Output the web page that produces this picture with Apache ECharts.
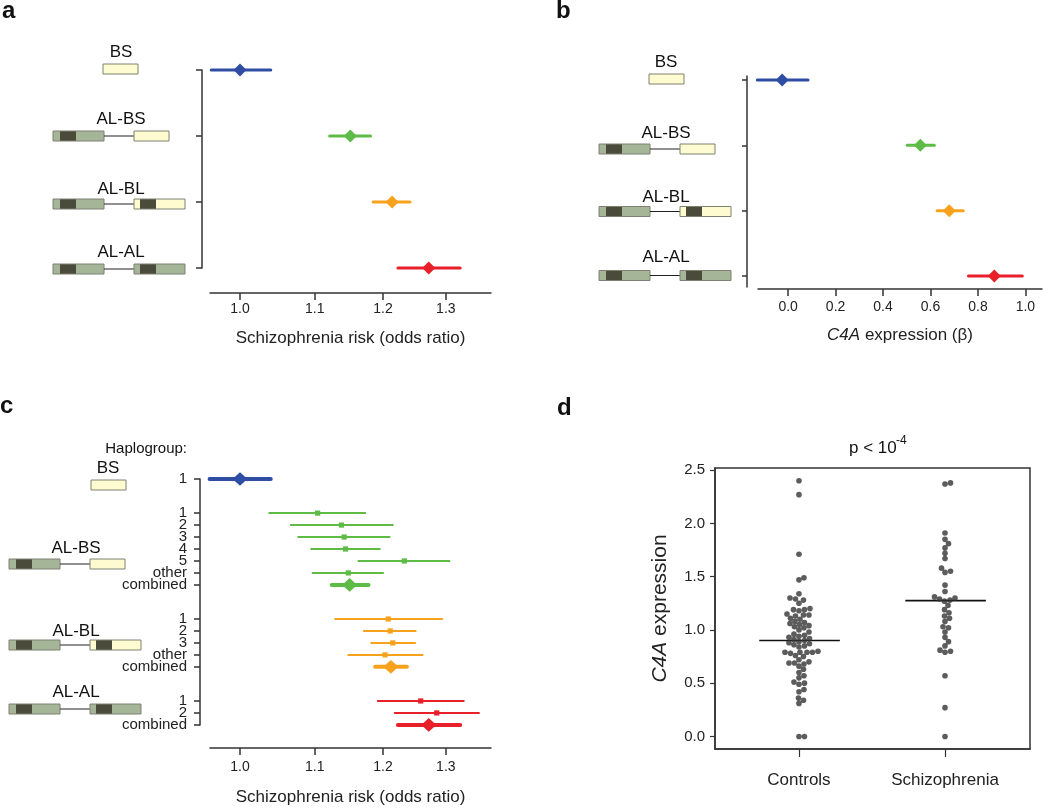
<!DOCTYPE html>
<html><head><meta charset="utf-8">
<script src="https://cdn.jsdelivr.net/npm/echarts@6/dist/echarts.min.js"></script>
<style>html,body{margin:0;padding:0;background:#fff}#c{width:1050px;height:808px}</style>
</head><body><div id="c"></div><script>
// ---------- DATA ----------
const groupNames = ['BS', 'AL-BS', 'AL-BL', 'AL-AL'];
const groupColors = ['#2f4ea3', '#5dbb46', '#f7a21d', '#e8202a'];

// Panel a: schizophrenia risk (odds ratio)
const aOR   = [1.000, 1.151, 1.214, 1.272];
const aLow  = [0.964, 1.121, 1.185, 1.223];
const aHigh = [1.040, 1.181, 1.242, 1.324];
const orTicks = [1.0, 1.1, 1.2, 1.3];
const orRange = [0.9625, 1.377];

// Panel b: C4A expression (beta)
const bBeta = [-0.025, 0.557, 0.679, 0.869];
const bLow  = [-0.130, 0.502, 0.628, 0.760];
const bHigh = [0.084, 0.616, 0.738, 0.987];
const betaTicks = [0.0, 0.2, 0.4, 0.6, 0.8, 1.0];
const betaRange = [-0.127, 1.07];

// Panel c: by haplogroup
const cLabels = ['1', '1', '2', '3', '4', '5', 'other', 'combined', '1', '2', '3', 'other', 'combined', '1', '2', 'combined'];
const cGroup  = [0, 1, 1, 1, 1, 1, 1, 1, 2, 2, 2, 2, 2, 3, 3, 3];
const cOR   = [1.000, 1.104, 1.138, 1.142, 1.144, 1.233, 1.148, 1.150, 1.208, 1.211, 1.215, 1.203, 1.212, 1.259, 1.285, 1.272];
const cLow  = [0.962, 1.038, 1.067, 1.077, 1.095, 1.163, 1.097, 1.124, 1.129, 1.171, 1.182, 1.148, 1.188, 1.192, 1.218, 1.223];
const cHigh = [1.040, 1.173, 1.215, 1.210, 1.195, 1.306, 1.200, 1.178, 1.294, 1.251, 1.250, 1.262, 1.237, 1.330, 1.356, 1.324];

// Panel d: C4A expression in brain tissue
const dCategories = ['Controls', 'Schizophrenia'];
const dControls = [2.40, 2.27, 1.71, 1.49, 1.47, 1.34, 1.30, 1.29, 1.28, 1.25, 1.20, 1.19, 1.19, 1.18, 1.15, 1.14, 1.14, 1.13,
  1.11, 1.10, 1.08, 1.07, 1.06, 1.05, 1.04, 1.03, 1.02, 1.00, 0.98, 0.96, 0.95, 0.94, 0.93, 0.92, 0.91, 0.90, 0.89, 0.88,
  0.87, 0.86, 0.85, 0.84, 0.80, 0.79, 0.79, 0.79, 0.79, 0.78, 0.76, 0.75, 0.72, 0.70, 0.69, 0.69, 0.68, 0.66, 0.63, 0.60,
  0.57, 0.55, 0.51, 0.50, 0.49, 0.44, 0.42, 0.36, 0.34, 0.31, 0.00, 0.00];
const dSchizophrenia = [2.38, 2.37, 1.91, 1.85, 1.81, 1.77, 1.72, 1.67, 1.58, 1.55, 1.54, 1.42, 1.36, 1.31, 1.30, 1.29,
  1.28, 1.27, 1.23, 1.19, 1.16, 1.13, 1.11, 1.08, 1.03, 1.02, 0.98, 0.93, 0.89, 0.85, 0.81, 0.80, 0.79, 0.57, 0.27, 0.00];
const dMedians = [0.90, 1.275];
const dTicks = [0.0, 0.5, 1.0, 1.5, 2.0, 2.5];

// ---------- LAYOUT / STYLE ----------
const FONT = '"Liberation Sans", Arial, Helvetica, sans-serif';
const AX = '#333';
const ln = Math.log;
const GAP = 1.85; // extra spacing between haplogroup blocks (panel c)
const cPos = cLabels.map((_, i) => +(i + cGroup[i] * GAP).toFixed(3));
const cPosLabel = {};
cPos.forEach((p, i) => { cPosLabel[p.toFixed(2)] = cLabels[i]; });
const cEnd = cPos[cPos.length - 1] + 0.01;            // tiny sentinel so the last real label is not auto-hidden
const cTickVals = cPos.concat([cEnd]);

function forestRenderer(styleFn) {
  return function (params, api) {
    const est = api.value(0), lo = api.value(1), hi = api.value(2), row = api.value(3);
    const g = api.value(4), kind = api.value(5);
    const s = styleFn(kind);
    const col = groupColors[g];
    const p = api.coord([est, row]), l = api.coord([lo, row]), h = api.coord([hi, row]);
    const marker = s.square
      ? { type: 'rect', shape: { x: p[0] - s.hw, y: p[1] - s.hh, width: 2 * s.hw, height: 2 * s.hh }, style: { fill: col } }
      : { type: 'polygon', shape: { points: [[p[0] - s.hw, p[1]], [p[0], p[1] - s.hh], [p[0] + s.hw, p[1]], [p[0], p[1] + s.hh]] }, style: { fill: col } };
    return { type: 'group', children: [
      { type: 'line', shape: { x1: l[0], y1: l[1], x2: h[0], y2: h[1] }, style: { stroke: col, lineWidth: s.lw, lineCap: 'round' } },
      marker
    ] };
  };
}

function baseAxis(extra) {
  return Object.assign({
    type: 'value',
    splitLine: { show: false },
    axisLine: { show: true, onZero: false, lineStyle: { color: AX, width: 1.5 } },
  }, extra);
}

const option = {
  animation: false,
  backgroundColor: '#fff',
  textStyle: { fontFamily: FONT },
  grid: [
    { left: 210, top: 70, width: 281, height: 198, outerBoundsMode: 'none', containLabel: false },
    { left: 758, top: 76, width: 284, height: 211, outerBoundsMode: 'none', containLabel: false },
    { left: 210, top: 479, width: 281, height: 246, outerBoundsMode: 'none', containLabel: false },
    { left: 715, top: 468, width: 315, height: 281, outerBoundsMode: 'none', containLabel: false,
      show: true, borderColor: AX, borderWidth: 1.5, backgroundColor: 'transparent' }
  ],
  xAxis: [
    baseAxis({ gridIndex: 0, position: 'bottom', offset: 25, min: ln(orRange[0]), max: ln(orRange[1]),
      axisTick: { show: true, length: 7, lineStyle: { color: AX, width: 1.5 }, customValues: orTicks.map(ln) },
      axisLabel: { customValues: orTicks.map(ln), formatter: v => Math.exp(v).toFixed(1), margin: 9, fontSize: 14, color: '#222', fontFamily: FONT, showMinLabel: true, showMaxLabel: true },
      name: 'Schizophrenia risk (odds ratio)', nameLocation: 'middle', nameGap: 37,
      nameTextStyle: { fontSize: 17, color: '#222', fontFamily: FONT } }),
    baseAxis({ gridIndex: 1, position: 'bottom', offset: 2, min: betaRange[0], max: betaRange[1],
      axisTick: { show: true, length: 7, lineStyle: { color: AX, width: 1.5 }, customValues: betaTicks },
      axisLabel: { customValues: betaTicks, formatter: v => v.toFixed(1), margin: 11, fontSize: 14, color: '#222', fontFamily: FONT, showMinLabel: true, showMaxLabel: true },
      name: '{i|C4A} expression (β)', nameLocation: 'middle', nameGap: 38,
      nameTextStyle: { fontSize: 17, color: '#222', fontFamily: FONT,
        rich: { i: { fontStyle: 'italic', fontSize: 17, color: '#222', fontFamily: FONT } } } }),
    baseAxis({ gridIndex: 2, position: 'bottom', offset: 23, min: ln(orRange[0]), max: ln(orRange[1]),
      axisTick: { show: true, length: 7, lineStyle: { color: AX, width: 1.5 }, customValues: orTicks.map(ln) },
      axisLabel: { customValues: orTicks.map(ln), formatter: v => Math.exp(v).toFixed(1), margin: 12, fontSize: 14, color: '#222', fontFamily: FONT, showMinLabel: true, showMaxLabel: true },
      name: 'Schizophrenia risk (odds ratio)', nameLocation: 'middle', nameGap: 41,
      nameTextStyle: { fontSize: 17, color: '#222', fontFamily: FONT } }),
    baseAxis({ gridIndex: 3, position: 'bottom', min: -0.575, max: 1.582,
      axisTick: { show: true, length: 8, lineStyle: { color: AX, width: 1.2 }, customValues: [0, 1] },
      axisLabel: { customValues: [0, 1], formatter: v => dCategories[Math.round(v)], margin: 23, fontSize: 17, color: '#222', fontFamily: FONT, showMinLabel: true, showMaxLabel: true } })
  ],
  yAxis: [
    baseAxis({ gridIndex: 0, position: 'left', inverse: true, offset: 8, min: 0, max: 3,
      axisTick: { show: true, length: 6, lineStyle: { color: AX, width: 1.5 }, customValues: [0, 1, 2, 3] },
      axisLabel: { show: false } }),
    baseAxis({ gridIndex: 1, position: 'left', inverse: true, offset: 11, min: -0.061, max: 3.168,
      axisTick: { show: true, length: 5, lineStyle: { color: AX, width: 1.5 }, customValues: [0, 1, 2, 3] },
      axisLabel: { show: false } }),
    baseAxis({ gridIndex: 2, position: 'left', inverse: true, offset: 10, min: 0, max: cEnd,
      axisTick: { show: true, length: 6, lineStyle: { color: AX, width: 1.5 }, customValues: cTickVals },
      axisLabel: { customValues: cTickVals, formatter: v => cPosLabel[(+v).toFixed(2)] || '', margin: 13, fontSize: 15,
        lineHeight: 10, color: '#222', fontFamily: FONT, showMinLabel: true, showMaxLabel: false, hideOverlap: false } }),
    baseAxis({ gridIndex: 3, position: 'left', min: -0.118, max: 2.52,
      axisTick: { show: true, length: 5, lineStyle: { color: AX, width: 1.2 }, customValues: dTicks },
      axisLabel: { customValues: dTicks, formatter: v => v.toFixed(1), margin: 10, fontSize: 15, color: '#222', fontFamily: FONT, showMinLabel: true, showMaxLabel: true },
      name: '{i|C4A} expression', nameLocation: 'middle', nameGap: 44, nameRotate: 90,
      nameTextStyle: { fontSize: 21, color: '#222', fontFamily: FONT,
        rich: { i: { fontStyle: 'italic', fontSize: 21, color: '#222', fontFamily: FONT } } } })
  ],
  series: [
    { type: 'custom', xAxisIndex: 0, yAxisIndex: 0, clip: false,
      renderItem: forestRenderer(() => ({ lw: 3, hw: 6.5, hh: 6.5 })),
      encode: { x: [0, 1, 2], y: 3 },
      data: aOR.map((v, i) => [ln(v), ln(aLow[i]), ln(aHigh[i]), i, i, 0]) },
    { type: 'custom', xAxisIndex: 1, yAxisIndex: 1, clip: false,
      renderItem: forestRenderer(() => ({ lw: 3, hw: 6.5, hh: 6.5 })),
      encode: { x: [0, 1, 2], y: 3 },
      data: bBeta.map((v, i) => [v, bLow[i], bHigh[i], i, i, 0]) },
    { type: 'custom', xAxisIndex: 2, yAxisIndex: 2, clip: false,
      renderItem: forestRenderer(k => k === 0 ? { lw: 4, hw: 7.5, hh: 6.8 } : { lw: 2, hw: 2.6, hh: 2.6, square: true }),
      encode: { x: [0, 1, 2], y: 3 },
      data: cOR.map((v, i) => [ln(v), ln(cLow[i]), ln(cHigh[i]), cPos[i], cGroup[i],
        (cGroup[i] === 0 || cLabels[i] === 'combined') ? 0 : 1]) },
    { id: 'ctrl', type: 'scatter', xAxisIndex: 3, yAxisIndex: 3, symbolSize: 5.6,
      itemStyle: { color: '#333' }, data: dControls.map(v => [0, v]) },
    { id: 'scz', type: 'scatter', xAxisIndex: 3, yAxisIndex: 3, symbolSize: 5.6,
      itemStyle: { color: '#333' }, data: dSchizophrenia.map(v => [1, v]) },
    { type: 'custom', xAxisIndex: 3, yAxisIndex: 3, clip: false,
      encode: { x: 0, y: 1 },
      renderItem: (params, api) => {
        const x = api.value(0), m = api.value(1);
        const a = api.coord([x - 0.272, m]), b = api.coord([x + 0.28, m]);
        return { type: 'line', shape: { x1: a[0], y1: a[1], x2: b[0], y2: b[1] }, style: { stroke: '#111', lineWidth: 1.6 } };
      },
      data: dMedians.map((m, i) => [i, m]) }
  ],
  graphic: []
};

// ---------- gene-construct diagrams (decorative) ----------
const GREEN = '#a5b598', DARK = '#4b4b3c', CREAM = '#fdfbcf', EDGE = '#7f8072';
function box(x, yc, w, fill, darkAt) {
  const els = [{ type: 'rect', shape: { x: x, y: yc - 5, width: w, height: 10 }, style: { fill: fill, stroke: null } }];
  if (darkAt != null) els.push({ type: 'rect', shape: { x: x + darkAt, y: yc - 5, width: 16, height: 10 }, style: { fill: DARK } });
  els.push({ type: 'rect', shape: { x: x, y: yc - 5, width: w, height: 10 }, style: { fill: 'none', stroke: EDGE, lineWidth: 1 } });
  return els;
}
function construct(type, x, yc, lx, ly) {
  let els = [];
  if (type === 'BS') {
    els = box(x, yc, 35, CREAM, null);
  } else {
    els = els.concat(box(x, yc, 51, GREEN, 7));
    els.push({ type: 'line', shape: { x1: x + 51, y1: yc, x2: x + 81, y2: yc }, style: { stroke: '#222', lineWidth: 1 } });
    if (type === 'AL-BS') els = els.concat(box(x + 81, yc, 35, CREAM, null));
    if (type === 'AL-BL') els = els.concat(box(x + 81, yc, 51, CREAM, 6));
    if (type === 'AL-AL') els = els.concat(box(x + 81, yc, 51, GREEN, 6));
  }
  els.push({ type: 'text', x: lx, y: ly, style: { text: type, font: '17px ' + FONT, fill: '#111', textAlign: 'center', textVerticalAlign: 'middle' } });
  return els;
}
const G = option.graphic;
const diagramPlaces = [
  // panel a
  ['BS', 103, 69, 121, 52], ['AL-BS', 53, 136, 121, 119], ['AL-BL', 53, 204, 121, 189], ['AL-AL', 53, 269, 121, 252],
  // panel b
  ['BS', 649, 79, 666, 62], ['AL-BS', 599, 149, 666, 133], ['AL-BL', 599, 211.5, 666, 197], ['AL-AL', 599, 275.5, 666, 257],
  // panel c
  ['BS', 91, 485, 108, 468], ['AL-BS', 9, 564, 76, 548], ['AL-BL', 9, 645, 76, 631], ['AL-AL', 9, 709, 76, 692]
];
diagramPlaces.forEach(d => { construct.apply(null, d).forEach(e => G.push(e)); });

function txt(x, y, s, font, align) {
  return { type: 'text', x: x, y: y, style: { text: s, font: font, fill: '#111', textAlign: align || 'left', textVerticalAlign: 'middle' } };
}
G.push(txt(2, 11, 'a', 'bold 24px ' + FONT));
G.push(txt(556, 11, 'b', 'bold 24px ' + FONT));
G.push(txt(0, 406, 'c', 'bold 24px ' + FONT));
G.push(txt(557, 408, 'd', 'bold 24px ' + FONT));
G.push(txt(187, 449, 'Haplogroup:', '15px ' + FONT, 'right'));
G.push(txt(849, 448, 'p < 10', '17px ' + FONT, 'left'));
G.push(txt(896, 441, '-4', '12px ' + FONT, 'left'));

const chart = echarts.init(document.getElementById('c'), null, { renderer: 'canvas' });
chart.setOption(option);

// ---------- beeswarm layout for panel d ----------
function swarm(vals, cat) {
  const toPx = v => chart.convertToPixel({ gridIndex: 3 }, v);
  const x0 = toPx([cat, 0])[0];
  const pxPerX = toPx([cat + 1, 0])[0] - x0;
  const D = 5.3;
  const pts = vals.map(v => ({ v: v, py: toPx([cat, v])[1] })).sort((a, b) => b.py - a.py);
  const placed = [];
  const out = [];
  pts.forEach(p => {
    let off = 0;
    for (let k = 0; k < 400; k++) {
      const cand = (k % 2 === 1 ? 1 : -1) * Math.ceil(k / 2) * 0.5;
      let ok = true;
      for (const q of placed) {
        const dy = q.py - p.py, dx = q.px - cand;
        if (dx * dx + dy * dy < D * D) { ok = false; break; }
      }
      if (ok) { off = cand; break; }
    }
    placed.push({ px: off, py: p.py });
    out.push([cat + off / pxPerX, p.v]);
  });
  return out;
}
chart.setOption({ series: [{ id: 'ctrl', data: swarm(dControls, 0) }, { id: 'scz', data: swarm(dSchizophrenia, 1) }] });
</script></body></html>
